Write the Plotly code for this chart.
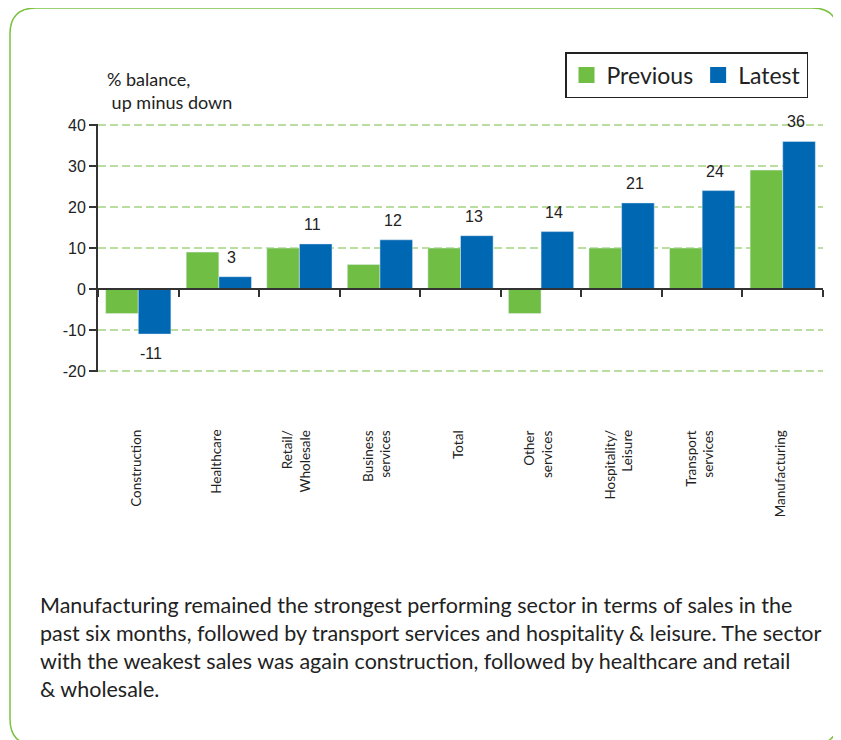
import plotly.graph_objects as go

categories = ["Construction", "Healthcare", "Retail/<br>Wholesale", "Business<br>services", "Total",
              "Other<br>services", "Hospitality/<br>Leisure", "Transport<br>services", "Manufacturing"]
cat_keys = ["Construction", "Healthcare", "Retail/Wholesale", "Business services", "Total",
            "Other services", "Hospitality/Leisure", "Transport services", "Manufacturing"]
previous = [-6, 9, 10, 6, 10, -6, 10, 10, 29]
latest = [-11, 3, 11, 12, 13, 14, 21, 24, 36]
y_ticks = [-20, -10, 0, 10, 20, 30, 40]
y_ticktext = ["-20", "-10", "0", "10", "20", "30", "40"]

GREEN = "#70bf44"
BLUE = "#0067b3"
W, H = 841, 740
OFF = 8  # page body margin
L, R, T, B = 90, 26, 116, 376
PW, PH = W - L - R, H - T - B
Y_RANGE = [-20.25, 40.25]
ZERO_POS = (0 - Y_RANGE[0]) / (Y_RANGE[1] - Y_RANGE[0])

def px(x):
    return (x - OFF - L) / PW

def py(y):
    return (H - B - (y - OFF)) / PH

fig = go.Figure()
fig.add_trace(go.Bar(x=cat_keys, y=previous, name="Previous", marker_color=GREEN, showlegend=False))
fig.add_trace(go.Bar(x=cat_keys, y=latest, name="Latest", marker_color=BLUE, showlegend=False))
# legend entries
fig.add_trace(go.Scatter(x=[None], y=[None], mode="markers", name="Previous",
                         marker=dict(symbol="square", size=16, color=GREEN)))
fig.add_trace(go.Scatter(x=[None], y=[None], mode="markers", name="Latest",
                         marker=dict(symbol="square", size=16, color=BLUE)))

ann = []
for k, v in zip(cat_keys, latest):
    ann.append(dict(x=k, y=v, xref="x", yref="y", text=str(v), showarrow=False,
                    xshift=13, yanchor="bottom" if v >= 0 else "top",
                    yshift=9 if v >= 0 else -9,
                    font=dict(family="Liberation Sans, Arial", size=16, color="#222")))
for k, lab in zip(cat_keys, categories):
    ann.append(dict(x=k, y=py(428), xref="x", yref="paper", text=lab, showarrow=False,
                    textangle=-90, yanchor="top", xanchor="center", align="right", xshift=-3,
                    font=dict(family="Lato", size=13.5, color="#222")))
ann.append(dict(x=px(105), y=py(115), xref="paper", yref="paper",
                text="% balance,<br> up minus down", showarrow=False, align="left",
                xanchor="left", yanchor="bottom",
                font=dict(family="Lato", size=18, color="#222")))
ann.append(dict(x=px(38), y=py(590), xref="paper", yref="paper",
                text=("Manufacturing remained the strongest performing sector in terms of sales in the<br>"
                      "past six months, followed by transport services and hospitality &amp; leisure. The sector<br>"
                      "with the weakest sales was again construction, followed by healthcare and retail<br>"
                      "&amp; wholesale."),
                showarrow=False, align="left", xanchor="left", yanchor="top",
                font=dict(family="Lato", size=21.5, color="#222")))

# rounded frame
x0, y0, x1, y1, r = 10, 8, 838, 745, 26
pts = [("M", [(x0, y0 + r)]), ("Q", [(x0, y0), (x0 + r, y0)]), ("L", [(x1 - r, y0)]),
       ("Q", [(x1, y0), (x1, y0 + r)]), ("L", [(x1, y1 - r)]), ("Q", [(x1, y1), (x1 - r, y1)]),
       ("L", [(x0 + r, y1)]), ("Q", [(x0, y1), (x0, y1 - r)]), ("Z", [])]
path = ""
for cmd, ps in pts:
    path += cmd + " ".join(f"{px(a):.5f},{py(b):.5f}" for a, b in ps) + " "

fig.update_layout(
    width=W, height=H,
    margin=dict(l=L, r=R, t=T, b=B, autoexpand=False),
    paper_bgcolor="white", plot_bgcolor="white",
    barmode="group", bargap=0.19, bargroupgap=0,
    showlegend=True,
    legend=dict(x=px(808), y=py(52), xanchor="right", yanchor="top", orientation="h",
                bordercolor="#222", borderwidth=1.5, bgcolor="white",
                font=dict(family="Lato", size=23, color="#222"), itemsizing="trace",
                itemwidth=30, tracegroupgap=0),
    annotations=ann,
    shapes=[dict(type="path", path=path, xref="paper", yref="paper",
                 line=dict(color="#7cc242", width=1.5), layer="below")],
    xaxis=dict(type="category", range=[-0.5, 8.5], anchor="free", position=ZERO_POS,
               showline=True, linecolor="#333", linewidth=2, ticks="outside",
               tickson="boundaries", ticklen=7, tickwidth=2, tickcolor="#333",
               showticklabels=False, showgrid=False, zeroline=False),
    yaxis=dict(range=Y_RANGE, tickvals=y_ticks, ticktext=y_ticktext, showline=True,
               linecolor="#333", linewidth=2, ticks="outside", ticklen=7, tickwidth=2,
               tickcolor="#333", showgrid=True, gridcolor="#b9dea0", griddash="8px,4px",
               gridwidth=2, zeroline=True, zerolinecolor="#333", zerolinewidth=2,
               tickfont=dict(family="Liberation Sans, Arial", size=16, color="#222")),
)
fig.write_html("out.html")
